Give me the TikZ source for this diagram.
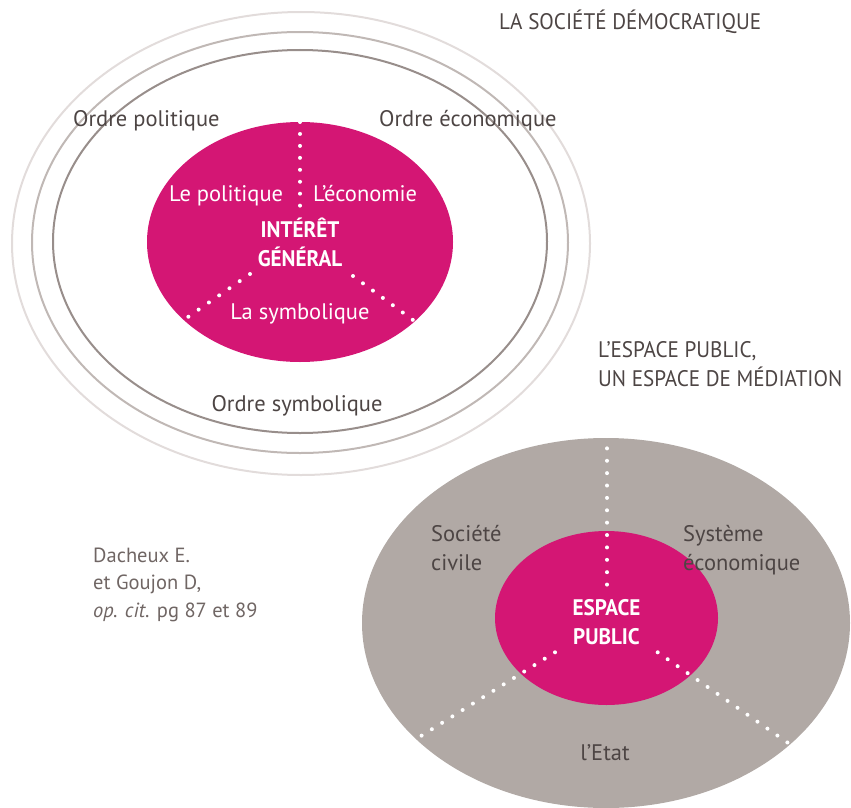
\documentclass[tikz,border=0pt]{standalone}
\usepackage{fontspec}
\setmainfont{PT Sans}
\newfontfamily\capsfont[FakeStretch=0.94]{PT Sans}
\definecolor{igpink}{RGB}{212,22,116}
\definecolor{epgray}{RGB}{177,169,165}
\definecolor{txtdark}{RGB}{77,69,68}
\definecolor{txtsrc}{RGB}{112,102,100}
\definecolor{ringA}{RGB}{152,142,139}
\definecolor{ringB}{RGB}{192,184,181}
\definecolor{ringC}{RGB}{226,220,219}
\tikzset{
  ring/.style={line width=2pt},
  dots/.style={white, line width=4pt, line cap=round, dash pattern=on 0pt off #1},
  lbl/.style={inner sep=0pt, text=txtdark, font=\fontsize{22.5}{29}\selectfont},
  caplbl/.style={inner sep=0pt, text=txtdark, font=\capsfont\fontsize{22.5}{29}\selectfont},
  inlbl/.style={inner sep=0pt, text=white, font=\fontsize{22.5}{29}\selectfont},
  inbold/.style={inner sep=0pt, text=white, align=center, font=\capsfont\bfseries\fontsize{22.5}{29}\selectfont},
  src/.style={inner sep=0pt, text=txtsrc, align=left, font=\fontsize{20.5}{27.5}\selectfont}
}
\begin{document}
\begin{tikzpicture}[x=1pt, y=-1pt]
  \useasboundingbox (0,0) rectangle (851,808);
  % la societe democratique
  \draw[ring, ringC] (301,243.5) ellipse [x radius=289, y radius=231.5];
  \draw[ring, ringB] (300,242.5) ellipse [x radius=268, y radius=210.5];
  \draw[ring, ringA] (300,241.5) ellipse [x radius=247, y radius=191.5];
  \fill[igpink] (300,242) ellipse [x radius=153, y radius=120];
  \coordinate (ig-n) at (300,122);
  \coordinate (ig-c) at (300,206);
  \coordinate (ig-l1) at (250,274);
  \coordinate (ig-l2) at (188,317);
  \coordinate (ig-r1) at (353,276);
  \coordinate (ig-r2) at (413,320);
  \draw[dots=11.95pt] (ig-n) -- (ig-c);
  \draw[dots=12.5pt] (ig-l1) -- (ig-l2);
  \draw[dots=12.35pt] (ig-r1) -- (ig-r2);
  \node[caplbl, anchor=base west] (title) at (499,30) {LA SOCIÉTÉ DÉMOCRATIQUE};
  \node[lbl, anchor=base west] (o-pol) at (73,126) {Ordre politique};
  \node[lbl, anchor=base west] (o-eco) at (379,126) {Ordre économique};
  \node[lbl, anchor=base] (o-sym) at (297,411) {Ordre symbolique};
  \node[inlbl, anchor=base west] (le-pol) at (169,201) {Le politique};
  \node[inlbl, anchor=base west] (l-eco) at (313,201) {L’économie};
  \node[inbold, anchor=base] (ig) at (300,266) {INTÉRÊT\\GÉNÉRAL};
  \node[inlbl, anchor=base] (la-sym) at (300,319) {La symbolique};
  % l'espace public
  \node[caplbl, anchor=base west, align=left] (ep-title) at (598,386) {L’ESPACE PUBLIC,\\UN ESPACE DE MÉDIATION};
  \node[src, anchor=base west] (source) at (93,617) {Dacheux E.\\et Goujon D,\\\textit{op. cit.} pg 87 et 89};
  \fill[epgray] (606,623) ellipse [x radius=244, y radius=185];
  \fill[igpink] (606.5,618) ellipse [x radius=111.5, y radius=87];
  \coordinate (ep-n) at (607,436);
  \coordinate (ep-c) at (607,585);
  \coordinate (ep-l1) at (555,652.3);
  \coordinate (ep-l2) at (421,736);
  \coordinate (ep-r1) at (657.7,652.3);
  \coordinate (ep-r2) at (787.7,742.7);
  \draw[dots=12.38pt] (ep-n) -- (ep-c);
  \draw[dots=12.1pt] (ep-l1) -- (ep-l2);
  \draw[dots=12.15pt] (ep-r1) -- (ep-r2);
  \node[lbl, anchor=base west, align=left] (soc) at (431,570) {Société\\civile};
  \node[lbl, anchor=base west, align=left] (sys) at (683,570) {Système\\économique};
  \node[inbold, anchor=base] (ep) at (606.5,644) {ESPACE\\PUBLIC};
  \node[lbl, anchor=base] (etat) at (605,760) {l’Etat};
\end{tikzpicture}
\end{document}
